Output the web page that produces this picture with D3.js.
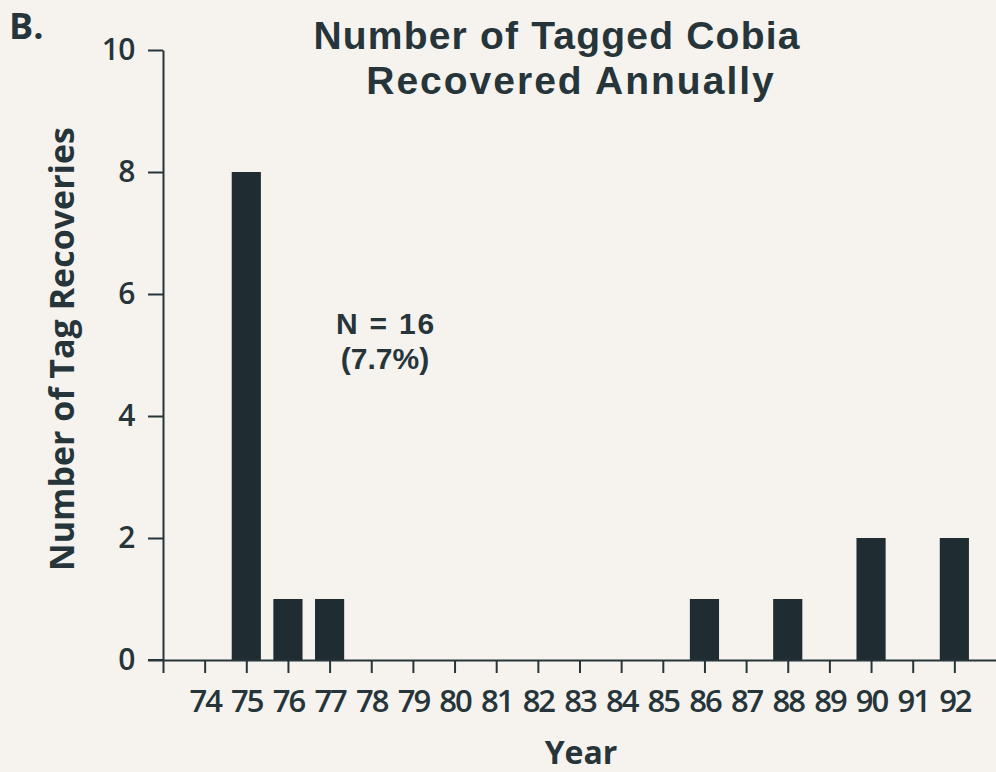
<!DOCTYPE html>
<html>
<head>
<meta charset="utf-8">
<script src="https://cdn.jsdelivr.net/npm/d3@7"></script>
<style>
  html, body { margin: 0; padding: 0; background: #f6f3ef; }
  svg { display: block; }
  text { font-family: "Open Sans", "Noto Sans", sans-serif; fill: #26353a; }
  text.tight { font-family: "Liberation Sans", Arial, sans-serif; }
</style>
</head>
<body>
<svg id="chart" width="996" height="772"></svg>
<script>
// ---- data ----
const years = [74, 75, 76, 77, 78, 79, 80, 81, 82, 83, 84, 85, 86, 87, 88, 89, 90, 91, 92];
const recoveries = [0, 8, 1, 1, 0, 0, 0, 0, 0, 0, 0, 0, 1, 0, 1, 0, 2, 0, 2];
const yTicks = [0, 2, 4, 6, 8, 10];
const titleLines = ["Number of Tagged Cobia", "Recovered Annually"];
const panelLabel = "B.";
const yLabel = "Number of Tag Recoveries";
const xLabel = "Year";
const noteLines = ["N = 16", "(7.7%)"];

const ink = "#26353a";
const barColor = "#1f2c31";

const svg = d3.select("#chart");

const x = d3.scaleLinear().domain([73, 93]).range([163, 996]);
const y = d3.scaleLinear().domain([0, 10]).range([660, 50]);
const barW = (x(1) - x(0)) * 0.7;

// bars
svg.append("g").selectAll("rect")
  .data(years.map((yr, i) => ({ yr, v: recoveries[i] })).filter(d => d.v > 0))
  .join("rect")
  .attr("x", d => x(d.yr) - barW / 2)
  .attr("width", barW)
  .attr("y", d => y(d.v))
  .attr("height", d => y(0) - y(d.v))
  .attr("fill", barColor);

// y axis
const gy = svg.append("g")
  .attr("transform", `translate(${x(73)},0)`)
  .call(d3.axisLeft(y).tickValues(yTicks).tickSize(15).tickSizeOuter(0).tickPadding(13).tickFormat(d3.format("d")));
gy.select(".domain").attr("stroke", ink).attr("stroke-width", 2);
gy.selectAll(".tick line").attr("stroke", ink).attr("stroke-width", 2);
gy.selectAll(".tick text")
  .style("font-size", "30px").style("font-weight", 600).style("letter-spacing", "-0.5px").attr("fill", ink);

// x axis
const gx = svg.append("g")
  .attr("transform", `translate(0,${y(0)})`)
  .call(d3.axisBottom(x).tickValues([73].concat(years)).tickSize(13).tickSizeOuter(0).tickPadding(17)
        .tickFormat(d => years.includes(d) ? d : ""));
gx.select(".domain").attr("stroke", ink).attr("stroke-width", 2);
gx.selectAll(".tick line").attr("stroke", ink).attr("stroke-width", 2);
gx.selectAll(".tick text")
  .style("font-size", "31px").style("font-weight", 600).style("letter-spacing", "-2px").attr("fill", ink);
// extend x-axis line left to meet the 0 tick
svg.append("line")
  .attr("x1", x(73) - 15).attr("x2", x(73))
  .attr("y1", y(0)).attr("y2", y(0))
  .attr("stroke", ink).attr("stroke-width", 2);

// title (two lines)
const title = svg.append("text").attr("class", "tight").attr("text-anchor", "middle")
  .style("font-size", "39px").style("font-weight", 700);
title.append("tspan").attr("x", 557).attr("y", 49).style("letter-spacing", "1.2px").text(titleLines[0]);
title.append("tspan").attr("x", 571).attr("y", 94).style("letter-spacing", "2px").text(titleLines[1]);

// panel label
svg.append("text").attr("x", 9).attr("y", 39)
  .style("font-size", "36px").style("font-weight", 700).text(panelLabel);

// y label
svg.append("text")
  .attr("transform", "translate(74,349) rotate(-90)")
  .attr("text-anchor", "middle")
  .style("font-size", "34px").style("font-weight", 700).text(yLabel);

// x label
svg.append("text").attr("x", 581).attr("y", 764).attr("text-anchor", "middle")
  .style("font-size", "32px").style("font-weight", 700).text(xLabel);

// annotation (two lines)
const note = svg.append("text").attr("class", "tight").attr("text-anchor", "middle")
  .style("font-size", "30px").style("font-weight", 700);
note.append("tspan").attr("x", 386).attr("y", 334).style("letter-spacing", "1.8px").text(noteLines[0]);
note.append("tspan").attr("x", 385).attr("y", 369).text(noteLines[1]);
</script>
</body>
</html>
